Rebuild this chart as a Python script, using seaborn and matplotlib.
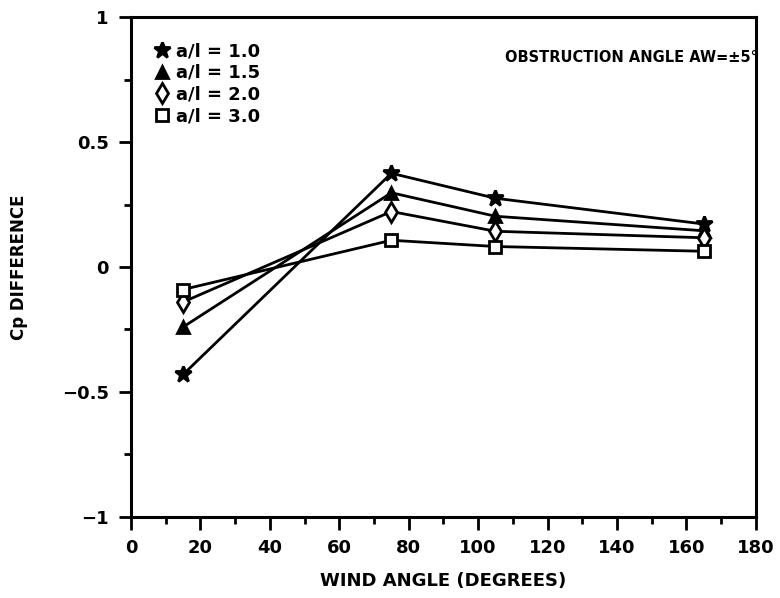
import matplotlib
matplotlib.use("Agg")
import matplotlib.pyplot as plt
import seaborn as sns
import pandas as pd
from matplotlib.ticker import MultipleLocator

sns.set_theme(style="white")
plt.rcParams['font.family'] = ['DejaVu Sans']
plt.rcParams['font.weight'] = 'bold'
plt.rcParams['text.color'] = 'black'
plt.rcParams['axes.labelcolor'] = 'black'
plt.rcParams['xtick.color'] = 'black'
plt.rcParams['ytick.color'] = 'black'

wind_angle = [15, 75, 105, 165]
series_labels = ["a/l = 1.0", "a/l = 1.5", "a/l = 2.0", "a/l = 3.0"]
cp_10 = [-0.43, 0.375, 0.275, 0.172]
cp_15 = [-0.24, 0.297, 0.203, 0.145]
cp_20 = [-0.14, 0.222, 0.143, 0.117]
cp_30 = [-0.09, 0.107, 0.082, 0.063]
x_ticks = [0, 20, 40, 60, 80, 100, 120, 140, 160, 180]
y_ticks = [-1, -0.5, 0, 0.5, 1]
y_tick_labels = ["\u22121", "\u22120.5", "0", "0.5", "1"]

rows = []
for lab, vals in zip(series_labels, [cp_10, cp_15, cp_20, cp_30]):
    for x, y in zip(wind_angle, vals):
        rows.append({"angle": x, "cp": y, "series": lab})
df = pd.DataFrame(rows)

fig = plt.figure(figsize=(7.8, 5.98), dpi=100)
ax = fig.add_axes([0.168, 0.1355, 0.801, 0.836])

styles = {
    "a/l = 1.0": dict(marker="*", markersize=12, markerfacecolor="black"),
    "a/l = 1.5": dict(marker="^", markersize=9, markerfacecolor="black"),
    "a/l = 2.0": dict(marker="d", markersize=10, markerfacecolor="white"),
    "a/l = 3.0": dict(marker="s", markersize=9, markerfacecolor="white"),
}
for lab in series_labels:
    sub = df[df["series"] == lab]
    sns.lineplot(data=sub, x="angle", y="cp", ax=ax, color="black", linewidth=2,
                 markeredgecolor="black", markeredgewidth=2, label=lab,
                 **styles[lab])

ax.set_xlim(0, 180)
ax.set_ylim(-1, 1)
ax.set_xticks(x_ticks)
ax.set_xticklabels([str(t) for t in x_ticks])
ax.set_yticks(y_ticks)
ax.set_yticklabels(y_tick_labels)
ax.xaxis.set_minor_locator(MultipleLocator(10))
ax.yaxis.set_minor_locator(MultipleLocator(0.25))
ax.tick_params(axis="both", which="major", direction="out", length=9, width=2,
               labelsize=13, color="black", labelcolor="black", bottom=True, left=True,
               pad=7)
ax.tick_params(axis="both", which="minor", direction="out", length=5, width=2,
               color="black", bottom=True, left=True)
for lbl in ax.get_xticklabels() + ax.get_yticklabels():
    lbl.set_fontweight("bold")
for sp in ax.spines.values():
    sp.set_color("black")
    sp.set_linewidth(2.2)

ax.set_xlabel("WIND ANGLE (DEGREES)", fontsize=13, fontweight="bold", labelpad=11)
ax.set_ylabel("Cp DIFFERENCE", fontsize=12, fontweight="bold", labelpad=24)

leg = ax.legend(loc="upper left", bbox_to_anchor=(0.0, 1.0), frameon=False,
                fontsize=13, handlelength=0.6, handletextpad=0.5, labelspacing=0.2,
                borderaxespad=1.0)
for h in leg.legend_handles:
    h.set_linestyle("none")
for t in leg.get_texts():
    t.set_fontweight("bold")

ax.text(1.003, 0.92, "OBSTRUCTION ANGLE AW=\u00b15\u00b0", transform=ax.transAxes,
        ha="right", va="center", fontsize=10.5, fontweight="bold")

fig.savefig("out.png", dpi=100)
